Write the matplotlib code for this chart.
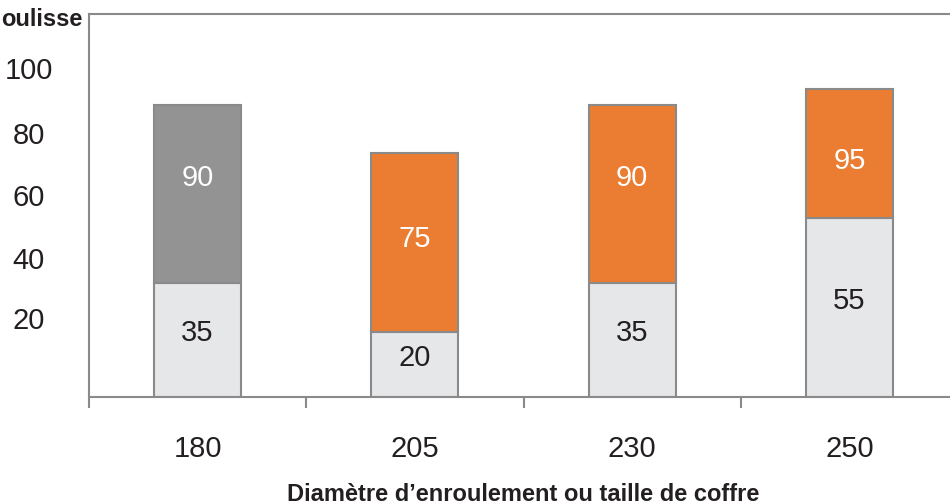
import matplotlib.pyplot as plt
from matplotlib import font_manager

# Values per winding diameter
diametres = ["180", "205", "230", "250"]
bas = [35, 20, 35, 55]          # lower segment
totaux = [90, 75, 90, 95]       # total height, shown on the upper segment
couleurs_haut = ["#939393", "#ea7d31", "#ea7d31", "#ea7d31"]
graduations = ["20", "40", "60", "80", "100"]

names = {f.name for f in font_manager.fontManager.ttflist}
police = "Liberation Sans Narrow" if "Liberation Sans Narrow" in names else "Liberation Sans"
plt.rcParams["font.family"] = [police, "DejaVu Sans"]

fig = plt.figure(figsize=(9.5, 5.04), dpi=100)
ax = fig.add_axes([89 / 950, 1 - 396.5 / 504, 869 / 950, 382.5 / 504])

x = list(range(len(diametres)))
haut = [t - b for t, b in zip(totaux, bas)]
bord = "#8a8a8a"
ax.bar(x, bas, width=0.4, color="#e6e7e9", edgecolor=bord, linewidth=1.5, zorder=2)
ax.bar(x, haut, width=0.4, bottom=bas, color=couleurs_haut, edgecolor=bord,
       linewidth=1.5, zorder=2)

# value labels
decal_haut = [5, 1, 5, -2.5]
for i in x:
    ax.text(i, bas[i] / 2 + 2, str(bas[i]), ha="center", va="center",
            fontsize=21, color="#231f20")
    ax.text(i, (bas[i] + totaux[i]) / 2 + decal_haut[i], str(totaux[i]),
            ha="center", va="center", fontsize=21, color="white")

ax.set_xlim(-0.5, 3.5)
ax.set_ylim(0, 118)

# category boundaries get the tick marks, centres get the labels
ax.set_xticks([i - 0.5 for i in range(len(diametres) + 1)])
ax.set_xticklabels([])
ax.set_xticks(x, minor=True)
ax.set_xticklabels(diametres, minor=True, fontsize=21, color="#231f20")
ax.tick_params(axis="x", which="major", length=8, width=1.5, color=bord, direction="out")
ax.tick_params(axis="x", which="minor", length=0, pad=28)

ax.set_yticks([24.2, 42.7, 62.2, 81.3, 101.3])
ax.set_yticklabels(graduations, fontsize=21, color="#231f20")
ax.tick_params(axis="y", length=0, pad=43.5)
for lab in ax.get_yticklabels():
    lab.set_horizontalalignment("center")

for s in ax.spines.values():
    s.set_color(bord)
    s.set_linewidth(1.5)

ax.set_xlabel("Diamètre d\u2019enroulement ou taille de coffre", fontsize=17,
              fontweight="bold", color="#231f20", labelpad=14)
fig.text(1 / 950, 1 - 19 / 504, "oulisse", ha="left", va="center",
         fontsize=17, fontweight="bold", color="#231f20")

fig.savefig("out.png", dpi=100)
